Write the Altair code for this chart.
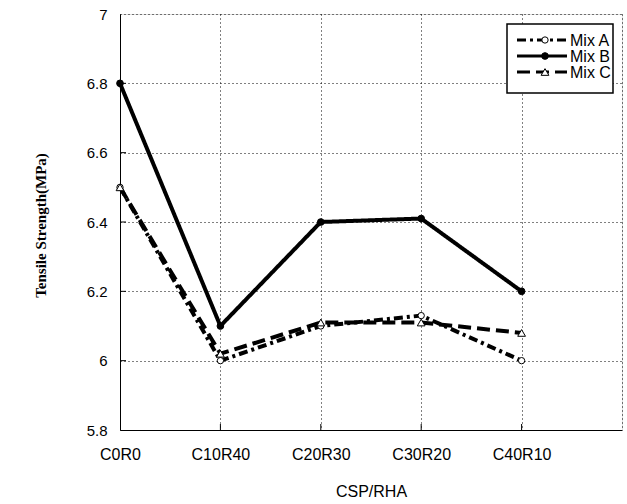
import altair as alt
import pandas as pd

categories = ["C0R0", "C10R40", "C20R30", "C30R20", "C40R10"]
mix_a = [6.5, 6.0, 6.1, 6.13, 6.0]
mix_b = [6.8, 6.1, 6.4, 6.41, 6.2]
mix_c = [6.5, 6.02, 6.11, 6.11, 6.08]
series_names = ["Mix A", "Mix B", "Mix C"]
y_ticks = [5.8, 6.0, 6.2, 6.4, 6.6, 6.8, 7.0]
x_ticks = [0, 1, 2, 3, 4, 5]

W, H = 502, 416
FONT = "Liberation Sans"

rows = []
for name, vals in zip(series_names, [mix_a, mix_b, mix_c]):
    for i, (c, v) in enumerate(zip(categories, vals)):
        rows.append({"series": name, "cat": c, "idx": i, "value": v})
df = pd.DataFrame(rows)

label_expr = "datum.value < %d ? %s[datum.value] : ''" % (
    len(categories), str(categories))

xscale = alt.Scale(domain=[0, 5], nice=False, zero=False)
yscale = alt.Scale(domain=[5.8, 7.0], nice=False, zero=False)

xenc = alt.X("idx:Q", scale=xscale, axis=alt.Axis(
    values=x_ticks, labelExpr=label_expr, title="CSP/RHA", grid=True,
    gridDash=[1, 3], gridColor="black", gridOpacity=1, ticks=False,
    labelFlush=False, labelPadding=16, labelFontSize=16, labelFont=FONT,
    labelColor="black", titleFont=FONT, titleFontSize=16, titleFontWeight="normal",
    titleColor="black", titleY=61, titleX=W / 2, titleBaseline="middle",
    domainColor="black"))
yenc = alt.Y("value:Q", scale=yscale, axis=alt.Axis(
    values=y_ticks, title="Tensile Strength(MPa)", grid=True, gridDash=[1, 3],
    gridColor="black", gridOpacity=1, ticks=False, labelPadding=13,
    labelFontSize=15, labelFont=FONT, labelColor="black",
    labelExpr="datum.value == 6 ? '6' : datum.value == 7 ? '7' : format(datum.value, '.1f')",
    titleFont="Liberation Serif", titleFontSize=15, titleFontWeight="bold",
    titleColor="black", titleAngle=-90, titleX=-80, titleY=211,
    titleAlign="center", titleBaseline="middle", domainColor="black"))

styles = {
    "Mix A": dict(dash=[9, 4, 3, 4], shape="circle", filled=False, size=40),
    "Mix B": dict(dash=[1, 0], shape="circle", filled=True, size=45),
    "Mix C": dict(dash=[13, 6], shape="triangle-up", filled=False, size=60),
}

base = alt.Chart(df)
layers = []
# inward ticks
tdf_x = pd.DataFrame({"idx": list(range(1, len(categories)))})
layers.append(alt.Chart(tdf_x).mark_rule(color="black", strokeWidth=1).encode(
    x=alt.X("idx:Q", scale=xscale), y=alt.value(H), y2=alt.value(H - 6)))
tdf_y = pd.DataFrame({"value": y_ticks[1:-1]})
layers.append(alt.Chart(tdf_y).mark_rule(color="black", strokeWidth=1).encode(
    y=alt.Y("value:Q", scale=yscale), x=alt.value(0), x2=alt.value(6)))

for name in series_names:
    st = styles[name]
    d = base.transform_filter(alt.datum.series == name)
    layers.append(d.mark_line(color="black", strokeWidth=4, strokeDash=st["dash"]).encode(x=xenc, y=yenc))
for name in series_names:
    st = styles[name]
    d = base.transform_filter(alt.datum.series == name)
    layers.append(d.mark_point(shape=st["shape"], size=st["size"], filled=True,
                               fill="black" if st["filled"] else "white",
                               stroke="black", strokeWidth=1, opacity=1).encode(
        x=alt.X("idx:Q", scale=xscale), y=alt.Y("value:Q", scale=yscale)))

# legend
one = pd.DataFrame({"k": [0]})
layers.append(alt.Chart(one).mark_rect(fill="white", stroke="black", strokeWidth=1.5).encode(
    x=alt.value(387), x2=alt.value(493), y=alt.value(10), y2=alt.value(79)))
for i, name in enumerate(series_names):
    st = styles[name]
    py = 26 + 16 * i
    layers.append(alt.Chart(one).mark_rule(color="black", strokeWidth=3, strokeDash=st["dash"]).encode(
        x=alt.value(397), x2=alt.value(447), y=alt.value(py)))
    layers.append(alt.Chart(one).mark_point(shape=st["shape"], size=st["size"], filled=True,
                                            fill="black" if st["filled"] else "white",
                                            stroke="black", strokeWidth=1, opacity=1).encode(
        x=alt.value(425), y=alt.value(py)))
    layers.append(alt.Chart(one).mark_text(text=name, font=FONT, fontSize=16, align="left",
                                           baseline="middle", color="black").encode(
        x=alt.value(450), y=alt.value(py + 1)))

chart = alt.layer(*layers).properties(
    width=W, height=H,
    autosize=alt.AutoSizeParams(type="none"),
    padding={"left": 120, "top": 14, "right": 5, "bottom": 74},
).configure_view(stroke="black", strokeWidth=1).configure(background="white")

chart.save("out.html", embed_options={"renderer": "svg", "actions": False})
